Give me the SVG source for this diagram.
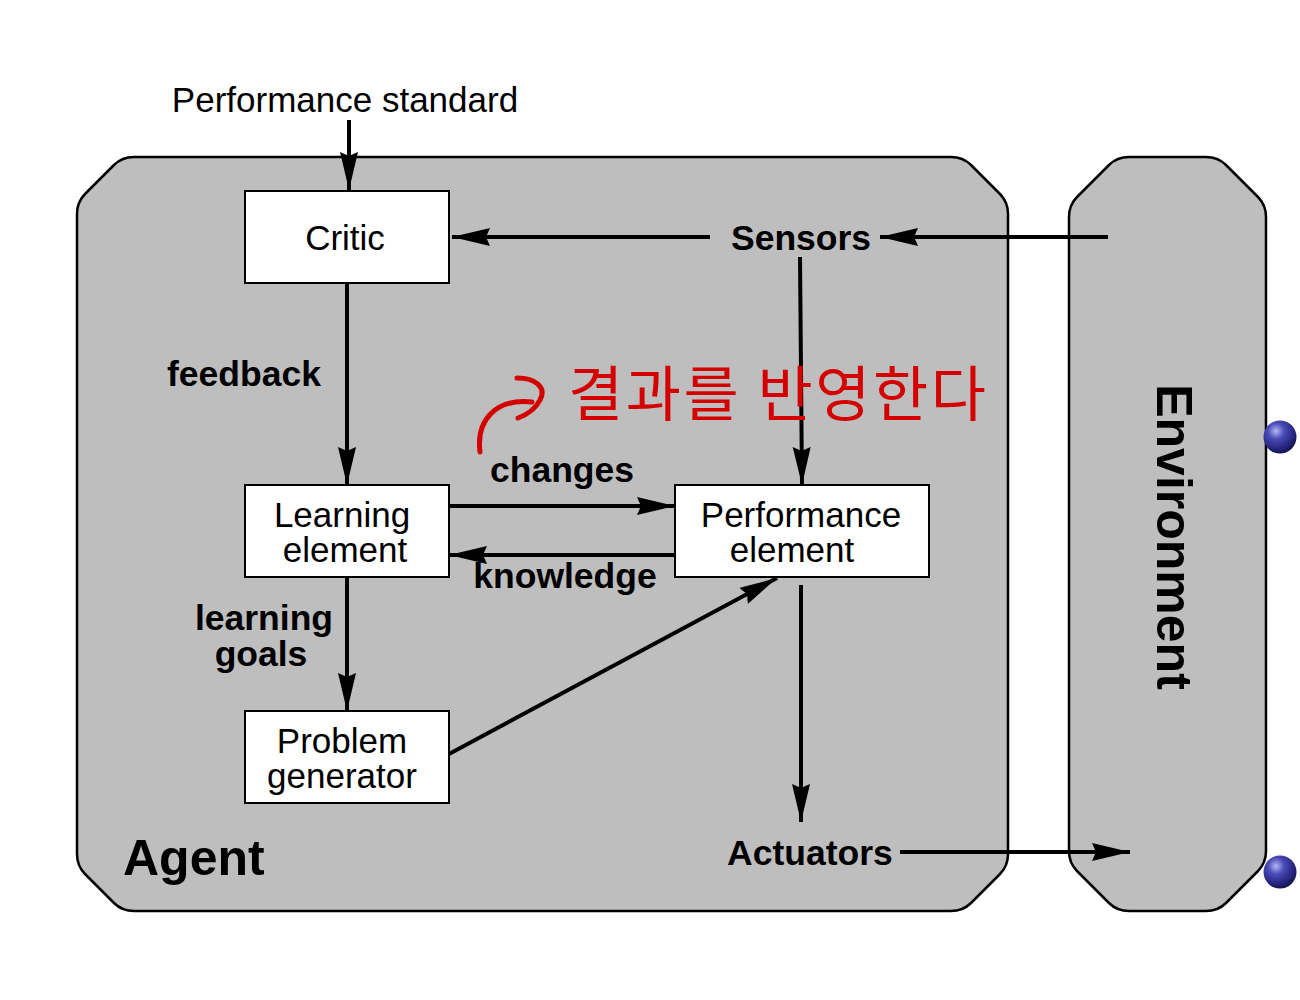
<svg xmlns="http://www.w3.org/2000/svg" width="1300" height="1000" viewBox="0 0 1300 1000">
<style>
.shell{fill:#bebebe;stroke:#000;stroke-width:2.5}
.box{fill:#fff;stroke:#000;stroke-width:2}
.t{font-family:"Liberation Sans",Arial,Helvetica,sans-serif;font-size:35px;fill:#000}
.b{font-family:"Liberation Sans",Arial,Helvetica,sans-serif;font-size:35.5px;font-weight:bold;fill:#000}
.big{font-family:"Liberation Sans",Arial,Helvetica,sans-serif;font-size:50px;font-weight:bold;fill:#000}
.c{text-anchor:middle}
.ln{stroke:#000;stroke-width:4;fill:none;marker-end:url(#ah)}
.ann{font-family:"Noto Sans CJK KR",sans-serif;font-size:60px;fill:#d40000}
.red{stroke:#d40000;stroke-width:5;fill:none;stroke-linecap:round;stroke-linejoin:round}
</style>
<defs>
<marker id="ah" markerUnits="userSpaceOnUse" markerWidth="40" markerHeight="20" refX="38" refY="9" orient="auto">
<path d="M0,0 L38,9 L0,18 L4,9 Z" fill="#000"/>
</marker>
<radialGradient id="ball" cx="0.38" cy="0.32" r="0.7">
<stop offset="0" stop-color="#b4b8f0"/>
<stop offset="0.35" stop-color="#4a4cb8"/>
<stop offset="0.8" stop-color="#23237a"/>
<stop offset="1" stop-color="#14144a"/>
</radialGradient>
</defs>

<g id="agent">
<path class="shell" d="M134,157 H951 Q963,157 971,165 L1000,194 Q1008,202 1008,214 V854 Q1008,866 1000,874 L971,903 Q963,911 951,911 H134 Q122,911 114,903 L85,874 Q77,866 77,854 V214 Q77,202 85,194 L114,165 Q122,157 134,157 Z"/>
<text class="big" x="123" y="875">Agent</text>
</g>

<g id="environment">
<path class="shell" d="M1129,157 H1206 Q1218,157 1226,165 L1258,197 Q1266,205 1266,217 V851 Q1266,863 1258,871 L1226,903 Q1218,911 1206,911 H1129 Q1117,911 1109,903 L1077,871 Q1069,863 1069,851 V217 Q1069,205 1077,197 L1109,165 Q1117,157 1129,157 Z"/>
<text class="big c" transform="translate(1157,537) rotate(90)">Environment</text>
</g>

<g id="balls">
<circle cx="1280" cy="437" r="16.5" fill="url(#ball)"/>
<circle cx="1280" cy="872" r="16.5" fill="url(#ball)"/>
</g>

<g id="critic">
<rect class="box" x="245" y="191" width="204" height="92"/>
<text class="t c" x="345" y="250">Critic</text>
</g>

<g id="learning">
<rect class="box" x="245" y="485" width="204" height="92"/>
<text class="t c" x="342" y="527">Learning</text>
<text class="t c" x="345" y="562">element</text>
</g>

<g id="problem">
<rect class="box" x="245" y="711" width="204" height="92"/>
<text class="t c" x="342" y="753">Problem</text>
<text class="t c" x="342" y="788">generator</text>
</g>

<g id="performance">
<rect class="box" x="675" y="485" width="254" height="92"/>
<text class="t c" x="801" y="527">Performance</text>
<text class="t c" x="792" y="562">element</text>
</g>

<g id="labels">
<text class="t c" x="345" y="112">Performance standard</text>
<text class="b" x="731" y="250">Sensors</text>
<text class="b" x="727" y="865">Actuators</text>
<text class="b" x="167" y="386">feedback</text>
<text class="b c" x="562" y="482">changes</text>
<text class="b c" x="565" y="588">knowledge</text>
<text class="b c" x="264" y="630">learning</text>
<text class="b c" x="261" y="666">goals</text>
</g>

<g id="connectors">
<line class="ln" x1="349" y1="120" x2="349" y2="190"/>
<line class="ln" x1="1108" y1="237" x2="880" y2="237"/>
<line class="ln" x1="710" y1="237" x2="452" y2="237"/>
<line class="ln" x1="800" y1="257" x2="802" y2="485"/>
<line class="ln" x1="347" y1="283" x2="347" y2="485"/>
<line class="ln" x1="449" y1="506" x2="675" y2="506"/>
<line class="ln" x1="675" y1="555" x2="449" y2="555"/>
<line class="ln" x1="347" y1="577" x2="347" y2="711"/>
<line class="ln" x1="449" y1="754" x2="777" y2="578"/>
<line class="ln" x1="801" y1="585" x2="801" y2="822"/>
<line class="ln" x1="900" y1="852" x2="1130" y2="852"/>
</g>

<g id="annotation">
<path class="red" d="M480,452 C476,420 496,398 532,402"/>
<path class="red" d="M517,378 C535,378 547,387 540,400 C535,410 526,415 518,418"/>
<text class="ann" x="568" y="416" textLength="418" lengthAdjust="spacing">결과를 반영한다</text>
</g>
</svg>
